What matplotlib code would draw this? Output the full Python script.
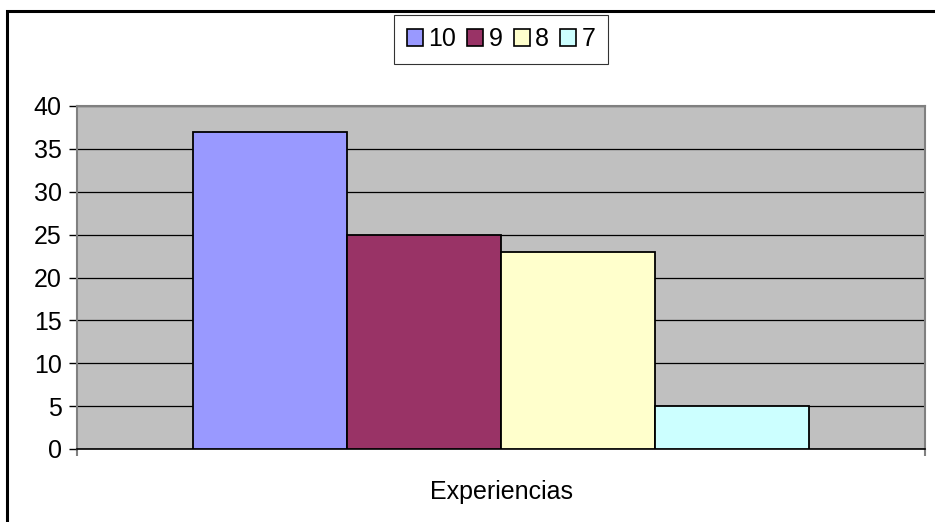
import matplotlib
matplotlib.use("Agg")
import matplotlib.pyplot as plt
from matplotlib.patches import Patch, Rectangle

# data
category = "Experiencias"
series = ["10", "9", "8", "7"]
values = [37, 25, 23, 5]
colors = ["#9999FF", "#993366", "#FFFFCC", "#CCFFFF"]
yticks = [0, 5, 10, 15, 20, 25, 30, 35, 40]

plt.rcParams['font.family'] = ['Liberation Sans', 'DejaVu Sans']

fig = plt.figure(figsize=(9.35, 5.22), dpi=100)
ax = fig.add_axes([77/935, 73/522, 848/935, 343/522])
ax.set_facecolor("#C0C0C0")

w = 154/848
for i, (s, v, c) in enumerate(zip(series, values, colors)):
    ax.bar((i - 1.5) * w, v, width=w, color=c, edgecolor="black", linewidth=1.3, zorder=3)

ax.set_xlim(-0.5, 0.5)
ax.set_ylim(0, 40)
ax.set_yticks(yticks)
ax.yaxis.grid(True, color="black", linewidth=0.9, zorder=1)
ax.set_axisbelow(True)

ax.set_xticks([-0.5, 0.5])
ax.set_xticklabels([])
ax.set_xticks([0], minor=True)
ax.set_xticklabels([category], minor=True)
ax.tick_params(axis="x", which="major", length=5, color="#808080", width=1.5, direction="out")
ax.tick_params(axis="x", which="minor", length=0, pad=22, labelsize=18)
ax.tick_params(axis="y", length=6, width=1, color="black", pad=5, labelsize=18)

for sp in ["top", "right", "left"]:
    ax.spines[sp].set_color("#808080")
    ax.spines[sp].set_linewidth(1.5)
ax.spines["bottom"].set_color("black")
ax.spines["bottom"].set_linewidth(1.2)

handles = [Patch(facecolor=c, edgecolor="black", linewidth=1.2, label=s) for s, c in zip(series, colors)]
leg = fig.legend(handles=handles, loc="center", bbox_to_anchor=(501/935, 1 - 39.5/522),
                 ncol=4, fontsize=18, frameon=True, fancybox=False,
                 handlelength=0.65, handleheight=0.65, handletextpad=0.2,
                 columnspacing=0.45, borderpad=0.5, borderaxespad=0)
leg.get_frame().set_edgecolor("black")
leg.get_frame().set_linewidth(0.8)

fig.patches.append(Rectangle((6.5/935, -0.2), 1.5, 1.2 - 11/522 + 0.0, transform=fig.transFigure,
                             fill=False, edgecolor="black", linewidth=2.2))

fig.savefig("out.png", dpi=100)
